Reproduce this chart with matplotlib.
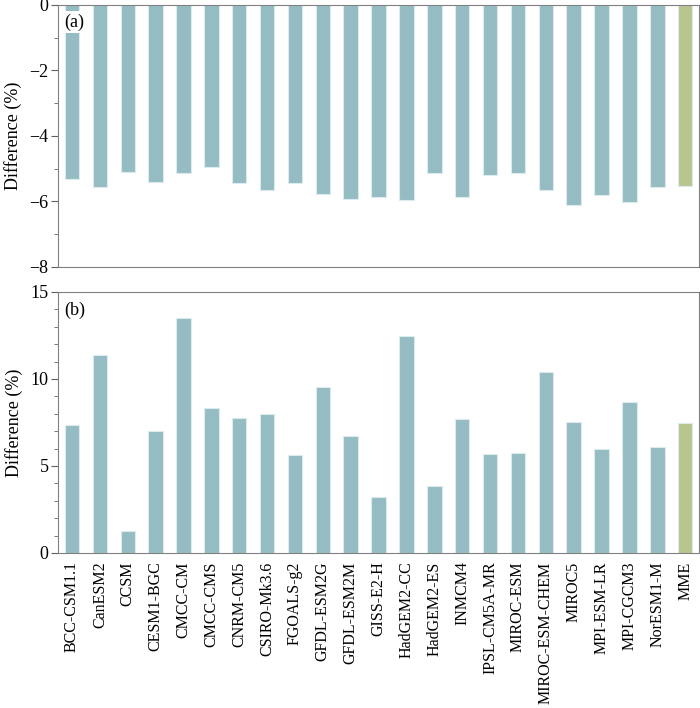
import matplotlib
matplotlib.use("Agg")
import matplotlib.pyplot as plt
from matplotlib.ticker import MultipleLocator

plt.rcParams['font.family'] = ['Liberation Serif', 'DejaVu Serif']

models = ['BCC-CSM1.1', 'CanESM2', 'CCSM', 'CESM1-BGC', 'CMCC-CM', 'CMCC-CMS',
          'CNRM-CM5', 'CSIRO-Mk3.6', 'FGOALS-g2', 'GFDL-ESM2G', 'GFDL-ESM2M',
          'GISS-E2-H', 'HadGEM2-CC', 'HadGEM2-ES', 'INMCM4', 'IPSL-CM5A-MR',
          'MIROC-ESM', 'MIROC-ESM-CHEM', 'MIROC5', 'MPI-ESM-LR', 'MPI-CGCM3',
          'NorESM1-M', 'MME']

diff_a = [-5.33, -5.55, -5.09, -5.40, -5.12, -4.94, -5.43, -5.65, -5.43, -5.77,
          -5.92, -5.86, -5.95, -5.14, -5.86, -5.19, -5.14, -5.66, -6.11, -5.80,
          -6.02, -5.57, -5.53]
diff_b = [7.37, 11.38, 1.28, 7.03, 13.48, 8.35, 7.78, 8.0, 5.65, 9.55, 6.7, 3.24,
          12.47, 3.85, 7.72, 5.69, 5.75, 10.4, 7.51, 5.95, 8.7, 6.07, 7.45]

teal = '#94bcc2'
green = '#b8c48e'
colors = [teal] * (len(models) - 1) + [green]
x = list(range(len(models)))

fig = plt.figure(figsize=(7, 7.08), dpi=100)
ax1 = fig.add_axes([0.083, 0.623, 0.9157, 0.370])
ax2 = fig.add_axes([0.083, 0.219, 0.9157, 0.3686])

for ax, vals in ((ax1, diff_a), (ax2, diff_b)):
    ax.bar(x, vals, width=0.52, color=colors, edgecolor='#dcecee', linewidth=0.8)
    ax.set_xlim(-0.5, len(models) - 0.5)
    ax.set_ylabel('Difference (%)', fontsize=13, labelpad=5)
    for s in ax.spines.values():
        s.set_color('#808080')
    ax.tick_params(axis='y', which='both', direction='out', color='#606060',
                   labelsize=13, length=5, pad=2)
    ax.tick_params(axis='y', which='minor', length=3)
    ax.yaxis.set_minor_locator(MultipleLocator(1))

ax1.set_ylim(-8, 0)
ax1.yaxis.set_major_locator(MultipleLocator(2))
ax1.set_xticks([])
ax1.text(-0.27, -0.52, '(a)', fontsize=13, ha='left', va='center',
         bbox=dict(facecolor='white', edgecolor='none', pad=2))

ax2.set_ylim(0, 15)
ax2.yaxis.set_major_locator(MultipleLocator(5))
ax2.set_xticks(x)
ax2.set_xticklabels(models, rotation=90, fontsize=11.5)
ax2.tick_params(axis='x', length=0, pad=6)
ax2.text(-0.27, 13.94, '(b)', fontsize=13, ha='left', va='center')

fig.savefig('out.png', dpi=100)
